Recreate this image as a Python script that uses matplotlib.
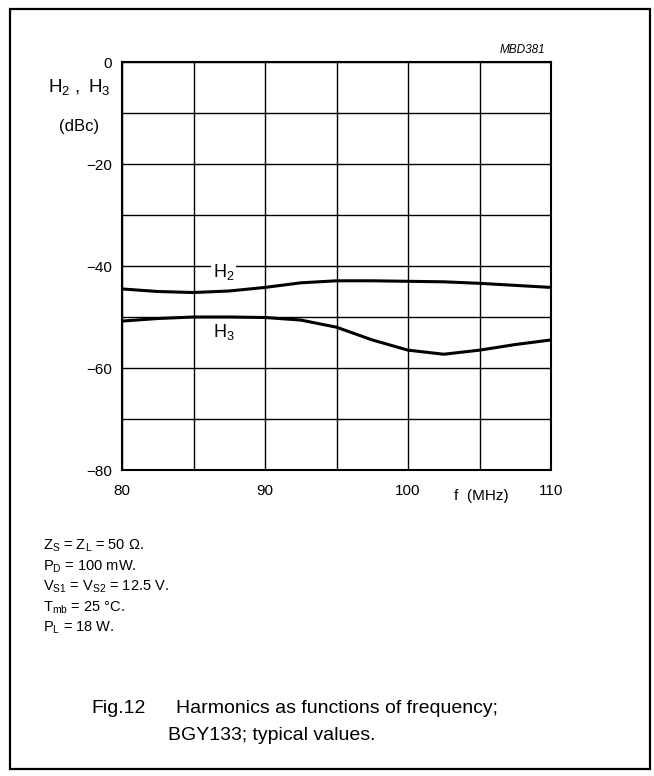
import numpy as np
import matplotlib
matplotlib.use("Agg")
import matplotlib.pyplot as plt
from matplotlib.patches import Rectangle

plt.rcParams['font.family'] = ['Liberation Sans', 'DejaVu Sans']
plt.rcParams['mathtext.fontset'] = 'custom'
plt.rcParams['mathtext.rm'] = 'Liberation Sans'
plt.rcParams['mathtext.it'] = 'Liberation Sans:italic'

# data
freq = [80, 82.5, 85, 87.5, 90, 92.5, 95, 97.5, 100, 102.5, 105, 107.5, 110]
h2 = [-44.5, -45.0, -45.2, -44.9, -44.2, -43.3, -42.9, -42.9, -43.0, -43.1, -43.4, -43.8, -44.2]
h3 = [-50.8, -50.3, -50.0, -50.0, -50.1, -50.6, -52.0, -54.5, -56.5, -57.3, -56.5, -55.4, -54.5]

xticks = [80, 85, 90, 95, 100, 105, 110]
xlabels = ['80', '', '90', '', '100', '', '110']
yticks = [-80, -70, -60, -50, -40, -30, -20, -10, 0]
ylabels = ['\u221280', '', '\u221260', '', '\u221240', '', '\u221220', '', '0']

conditions = [r'$\mathregular{Z_S}$ = $\mathregular{Z_L}$ = 50 Ω.',
              r'$\mathregular{P_D}$ = 100 mW.',
              r'$\mathregular{V_{S1}}$ = $\mathregular{V_{S2}}$ = 12.5 V.',
              r'$\mathregular{T_{mb}}$ = 25 °C.',
              r'$\mathregular{P_L}$ = 18 W.']

W, H = 654, 776
fig = plt.figure(figsize=(W / 100, H / 100), dpi=100)

# outer frame
fig.patches.append(Rectangle((10 / W, 1 - 769 / H), 640 / W, 760 / H,
                             transform=fig.transFigure, fill=False,
                             lw=1.6, ec='black'))

ax = fig.add_axes([122 / W, 1 - 470 / H, 429 / W, 408 / H])
ax.plot(freq, h2, color='black', lw=2.2)
ax.plot(freq, h3, color='black', lw=2.2)
ax.set_xlim(80, 110)
ax.set_ylim(-80, 0)
ax.set_xticks(xticks)
ax.set_xticklabels(xlabels)
ax.set_yticks(yticks)
ax.set_yticklabels(ylabels)
ax.tick_params(length=0, labelsize=11)
ax.tick_params(axis='x', pad=10)
ax.tick_params(axis='y', pad=7)
ax.grid(True, color='black', lw=1.0)
for s in ax.spines.values():
    s.set_linewidth(1.5)

ax.text(87.1, -41.2, r'$\mathregular{H_2}$', fontsize=13, ha='center', va='center',
        bbox=dict(fc='white', ec='none', pad=1.5))
ax.text(87.1, -53.0, r'$\mathregular{H_3}$', fontsize=13, ha='center', va='center')

fig.text(545 / W, 1 - 50 / H, 'MBD381', fontsize=8.5, style='italic',
         ha='right', va='center')
fig.text(79 / W, 1 - 87 / H, r'$\mathregular{H_2\ ,\ H_3}$', fontsize=13.5,
         ha='center', va='center')
fig.text(79 / W, 1 - 127 / H, '(dBc)', fontsize=12, ha='center', va='center')
fig.text(481 / W, 1 - 496 / H, 'f  (MHz)', fontsize=11, ha='center', va='center')

for i, c in enumerate(conditions):
    fig.text(43 / W, 1 - (550 + i * 20.5) / H, c, fontsize=10.5,
             ha='left', va='baseline')

fig.text(91 / W, 1 - 713 / H, 'Fig.12', fontsize=14, ha='left', va='baseline')
fig.text(176 / W, 1 - 713 / H, 'Harmonics as functions of frequency;',
         fontsize=14, ha='left', va='baseline')
fig.text(168 / W, 1 - 740 / H, 'BGY133; typical values.',
         fontsize=14, ha='left', va='baseline')

fig.savefig('out.png', dpi=100)
